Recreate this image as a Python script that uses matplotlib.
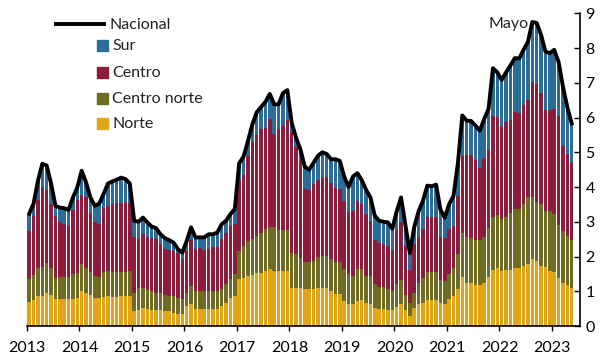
import numpy as np
import matplotlib
matplotlib.use("Agg")
import matplotlib.pyplot as plt
from matplotlib.lines import Line2D
from matplotlib.patches import Rectangle

plt.rcParams["font.family"] = ["Lato", "DejaVu Sans"]

# monthly series, Jan 2013 - May 2023
years = list(range(2013, 2024))

norte = [
    .70, .75, .87, .87, .96, .89, .79, .79, .79, .79, .79, .80,
    1.01, .94, .89, .81, .81, .84, .87, .84, .84, .87, .87, .87,
    .43, .45, .53, .48, .45, .45, .45, .43, .43, .38, .35, .35,
    .58, .62, .49, .49, .49, .49, .48, .48, .58, .67, .82, .87,
    1.35, 1.39, 1.44, 1.47, 1.53, 1.53, 1.59, 1.64, 1.59, 1.59, 1.59, 1.59,
    1.10, 1.10, 1.10, 1.06, 1.06, 1.06, 1.09, 1.09, 1.09, 1.00, .91, .91,
    .72, .64, .64, .72, .74, .67, .64, .53, .48, .48, .46, .45,
    .55, .63, .45, .30, .53, .63, .67, .74, .74, .74, .67, .63,
    .77, .87, 1.06, 1.40, 1.25, 1.23, 1.18, 1.18, 1.25, 1.42, 1.62, 1.66,
    1.59, 1.60, 1.62, 1.68, 1.68, 1.73, 1.78, 1.92, 1.88, 1.73, 1.70, 1.59,
    1.55, 1.39, 1.25, 1.18, 1.10,
]
centro_norte = [
    .65, .72, .80, .83, .84, .79, .59, .61, .63, .61, .70, .72,
    .77, .74, .65, .63, .61, .72, .72, .72, .72, .69, .69, .72,
    .53, .65, .57, .55, .56, .51, .51, .46, .44, .49, .47, .42,
    .38, .53, .52, .52, .52, .52, .53, .53, .48, .53, .53, .62,
    .81, .92, 1.01, 1.03, 1.07, 1.16, 1.20, 1.22, 1.25, 1.18, 1.18, 1.18,
    .99, .97, .87, .77, .77, .82, .90, .93, .93, .92, .92, .92,
    .92, .85, .80, .92, .90, .77, .80, .69, .63, .63, .60, .55,
    .65, .69, .45, .35, .43, .62, .72, .82, .82, .82, .65, .67,
    .72, .81, 1.01, 1.29, 1.32, 1.29, 1.30, 1.30, 1.32, 1.39, 1.53, 1.53,
    1.48, 1.55, 1.63, 1.70, 1.70, 1.79, 1.92, 1.80, 1.70, 1.77, 1.62, 1.71,
    1.67, 1.52, 1.49, 1.42, 1.38,
]
centro = [
    1.39, 1.70, 1.96, 2.31, 2.11, 1.84, 1.78, 1.58, 1.53, 1.48, 1.86, 2.12,
    2.00, 2.04, 1.70, 1.54, 1.52, 1.85, 1.87, 1.96, 1.99, 1.99, 2.02, 1.96,
    1.59, 1.40, 1.54, 1.54, 1.52, 1.54, 1.40, 1.32, 1.31, 1.29, 1.29, 1.15,
    1.20, 1.33, 1.20, 1.23, 1.17, 1.20, 1.25, 1.25, 1.44, 1.49, 1.53, 1.44,
    2.04, 2.04, 2.45, 2.80, 2.90, 2.99, 2.91, 3.09, 2.68, 2.91, 2.99, 3.15,
    3.49, 3.07, 2.84, 2.11, 2.08, 2.21, 2.21, 2.24, 2.26, 2.21, 2.14, 2.12,
    1.97, 1.78, 1.88, 1.97, 1.87, 1.78, 1.59, 1.25, 1.29, 1.26, 1.25, 1.20,
    1.55, 1.66, 1.40, .95, 1.40, 1.30, 1.40, 1.59, 1.59, 1.59, 1.23, 1.22,
    1.30, 1.20, 1.68, 2.19, 2.35, 2.40, 2.30, 2.06, 2.26, 2.26, 2.88, 2.82,
    2.67, 2.73, 2.68, 2.79, 2.74, 2.84, 2.80, 3.31, 3.39, 3.20, 2.90, 2.92,
    3.02, 3.14, 2.44, 2.35, 2.20,
]
sur = [
    .49, .35, .55, .66, .71, .58, .30, .43, .44, .46, .35, .35,
    .69, .41, .46, .48, .58, .39, .64, .64, .66, .72, .65, .55,
    .48, .50, .48, .41, .33, .32, .28, .32, .29, .24, .10, .19,
    .29, .36, .34, .31, .37, .43, .38, .43, .43, .34, .34, .44,
    .48, .53, .42, .50, .65, .62, .75, .73, .86, .70, .94, .87,
    .27, .28, .27, .64, .59, .61, .70, .74, .67, .67, .83, .80,
    .69, .73, .98, .79, .69, .70, .67, .70, .63, .63, .67, .60,
    .55, .72, .60, .50, .48, .75, .81, .89, .87, .92, .80, .60,
    .72, .87, .95, 1.18, .99, .98, .99, 1.08, 1.13, 1.18, 1.39, 1.29,
    1.34, 1.42, 1.57, 1.54, 1.58, 1.59, 1.68, 1.72, 1.75, 1.68, 1.68, 1.63,
    1.71, 1.55, 1.71, 1.35, 1.15,
]

series = [
    ("Norte", norte, "#E2A516"),
    ("Centro norte", centro_norte, "#706B22"),
    ("Centro", centro, "#8C1B3C"),
    ("Sur", sur, "#2B6C9B"),
]

nacional = np.sum([norte, centro_norte, centro, sur], axis=0)
x = np.arange(len(norte)) + 0.5

W, H = 600, 357
fig = plt.figure(figsize=(6.0, 3.57), dpi=100)
ax = fig.add_axes([27 / W, 1 - 326 / H, (580 - 27) / W, (326 - 13.3) / H])

bottom = np.zeros(len(x))
for name, vals, col in series:
    ax.bar(x, vals, width=0.78, bottom=bottom, color=col, linewidth=0)
    bottom += np.array(vals)

ax.plot(x, nacional, color="black", lw=2.8, solid_joinstyle="round")

peak = int(np.argmax(nacional))
ax.text(x[peak] - 0.9, nacional[peak] - 0.05, "Mayo", ha="right", va="center",
        fontsize=11.5, color="#222222")

ax.set_xlim(0, 126.4)
ax.set_ylim(0, 9)
ax.spines["top"].set_visible(False)
ax.spines["left"].set_visible(False)
ax.yaxis.tick_right()
ax.set_yticks(range(0, 10))
ax.tick_params(axis="y", direction="in", length=4.5, width=1, pad=4,
               labelsize=11.5, right=True, left=False)
ax.set_xticks([12 * i for i in range(len(years))])
ax.set_xticklabels([str(y) for y in years])
ax.tick_params(axis="x", direction="out", length=3.6, width=1, pad=7,
               labelsize=11.5)
for s in ("bottom", "right"):
    ax.spines[s].set_linewidth(1.2)

# legend
fig.add_artist(Line2D([56 / W, 104 / W], [1 - 24 / H] * 2, color="black",
                      lw=2.8, transform=fig.transFigure))
fig.text(110 / W, 1 - 25 / H, "Nacional", va="center", fontsize=11.5,
         color="#222222")
rows = [("Sur", "#2B6C9B", 45), ("Centro", "#8C1B3C", 72),
        ("Centro norte", "#706B22", 98), ("Norte", "#E2A516", 123)]
for label, col, yc in rows:
    fig.add_artist(Rectangle((97 / W, 1 - (yc + 5.5) / H), 11 / W, 11 / H,
                             color=col, transform=fig.transFigure))
    fig.text(112 / W, 1 - (yc + 1) / H, label, va="center", fontsize=11.5,
             color="#222222")

fig.savefig("out.png", dpi=100)
